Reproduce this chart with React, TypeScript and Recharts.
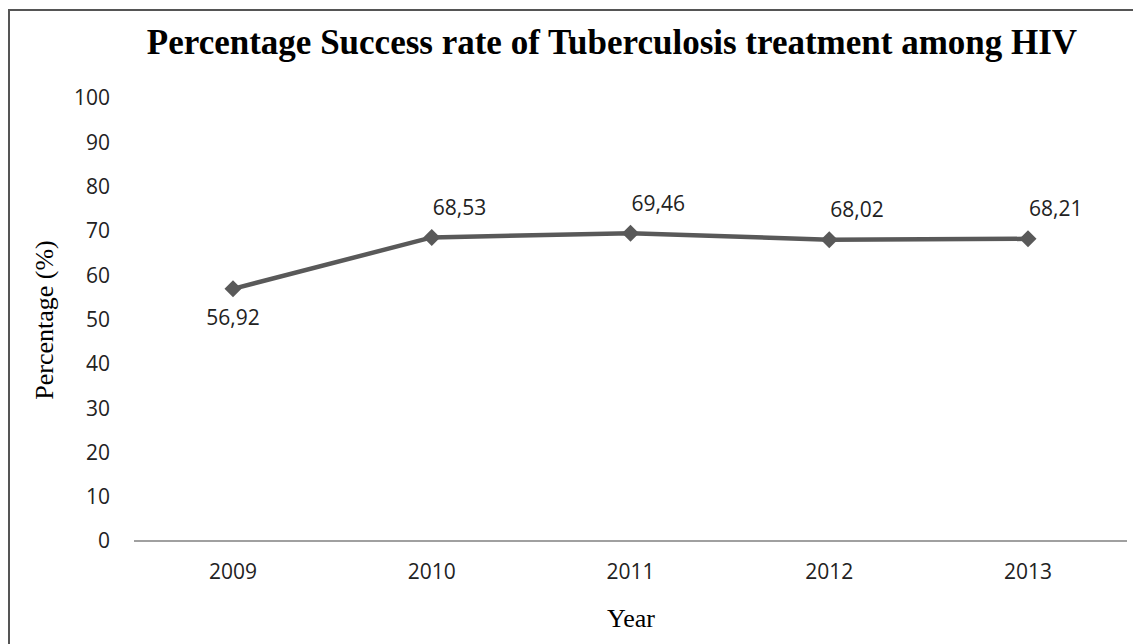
import React from "react";
import { LineChart, Line, XAxis, YAxis, LabelList } from "recharts";

const years = ["2009", "2010", "2011", "2012", "2013"];
const successRates = [56.92, 68.53, 69.46, 68.02, 68.21];
const yTicks = [0, 10, 20, 30, 40, 50, 60, 70, 80, 90, 100];

const data = years.map((year, i) => ({ year, rate: successRates[i] }));

const sans = "'Open Sans', sans-serif";
const serif = "'Liberation Serif', 'Times New Roman', serif";
const lineColor = "#595959";

const fmt = (v: number) => v.toFixed(2).replace(".", ",");

const Diamond = (props: any) => {
  const { cx, cy } = props;
  if (cx == null || cy == null) return null;
  const r = 8.5;
  return (
    <polygon
      points={`${cx},${cy - r} ${cx + r},${cy} ${cx},${cy + r} ${cx - r},${cy}`}
      fill={lineColor}
    />
  );
};

const ValueLabel = (props: any) => {
  const { x, y, value, index } = props;
  const below = index === 0;
  return (
    <text
      x={below ? x : x + 1}
      y={below ? y + 29 : y - 30}
      dy="0.355em"
      textAnchor={below ? "middle" : "start"}
      fontFamily={sans}
      fontSize={21}
      fill="#222"
    >
      {fmt(value)}
    </text>
  );
};

export default function App() {
  return (
    <div
      style={{
        position: "absolute",
        left: 0,
        top: 0,
        width: 1133,
        height: 644,
        overflow: "hidden",
        background: "#fff",
      }}
    >
      <div
        style={{
          position: "absolute",
          left: 8,
          top: 9,
          right: -20,
          bottom: -20,
          borderLeft: "2px solid #555",
          borderTop: "2px solid #555",
        }}
      />
      <LineChart
        width={1133}
        height={644}
        data={data}
        margin={{ top: 98, right: 6, bottom: 73, left: 74 }}
        style={{ position: "absolute", left: 0, top: 0 }}
      >
        <text
          x={612}
          y={54}
          textAnchor="middle"
          fontFamily={serif}
          fontWeight="bold"
          fontSize={35}
          fill="#000"
        >
          Percentage Success rate of Tuberculosis treatment among HIV
        </text>
        <text
          x={0}
          y={0}
          transform="translate(53, 320) rotate(-90)"
          textAnchor="middle"
          fontFamily={serif}
          fontSize={26}
          fill="#000"
        >
          Percentage (%)
        </text>
        <text
          x={631}
          y={627}
          textAnchor="middle"
          fontFamily={serif}
          fontSize={26}
          fill="#000"
        >
          Year
        </text>
        <XAxis
          dataKey="year"
          height={30}
          padding={{ left: 99, right: 99 }}
          tickLine={false}
          tickSize={0}
          tickMargin={23}
          axisLine={{ stroke: "#808080", strokeWidth: 1.5 }}
          tick={{ fontFamily: sans, fontSize: 21, fill: "#222" }}
        />
        <YAxis
          width={60}
          domain={[0, 100]}
          ticks={yTicks}
          interval={0}
          axisLine={false}
          tickLine={false}
          tickSize={0}
          tickMargin={24}
          tick={{ fontFamily: sans, fontSize: 21, fill: "#222" }}
        />
        <Line
          type="linear"
          dataKey="rate"
          stroke={lineColor}
          strokeWidth={4.5}
          dot={<Diamond />}
          activeDot={false}
          isAnimationActive={false}
        >
          <LabelList dataKey="rate" content={<ValueLabel />} />
        </Line>
      </LineChart>
    </div>
  );
}
